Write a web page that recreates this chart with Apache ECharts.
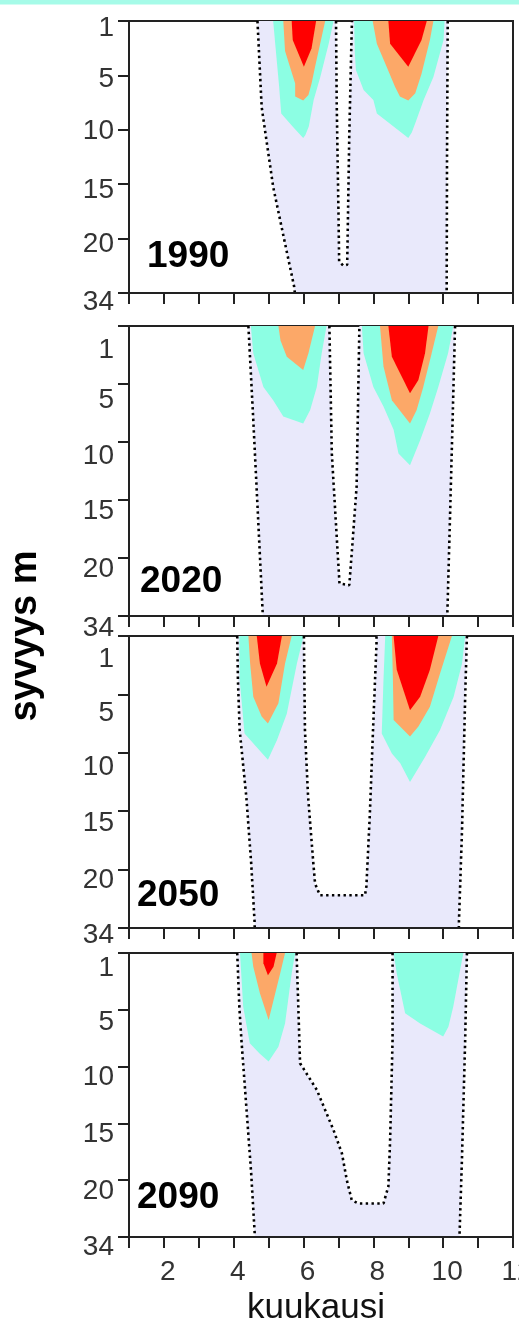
<!DOCTYPE html>
<html><head><meta charset="utf-8">
<script src="https://cdn.jsdelivr.net/npm/echarts@6/dist/echarts.min.js"></script>
<style>html,body{margin:0;padding:0;background:#fff}#c{width:519px;height:1324px}</style>
</head><body><div id="c"></div>
<script>
// ---- data (month, depth-index where 0..5 = depth labels 1,5,10,15,20,34) ----
const depthLabels = ['1','5','10','15','20','34'];
const xTickLabels = [2,4,6,8,10,12];
const years = ['1990','2020','2050','2090'];
const xLabel = 'kuukausi';
const yLabel = 'syvyys m';

// 1990
const p1DotLeft  = [[4.68,0],[4.80,1.58],[5.13,3.05],[5.47,4.09],[5.73,4.88],[5.75,5]];
const p1DotMid   = [[6.93,0],[6.95,1.5],[7.0,3.5],[7.02,4.42],[7.14,4.5],[7.25,4.48],[7.31,2.1],[7.38,0.15],[7.39,0]];
const p1DotRight = [[10.13,0],[10.11,2.5],[10.1,5]];
const p1Cyan1   = [[5.13,0],[5.2,0.5],[5.3,1.2],[5.36,1.7],[5.7,1.95],[5.99,2.15],[6.05,2.1],[6.15,1.94],[6.29,1.45],[6.48,1.03],[6.72,0.42],[6.86,0]];
const p1Orange1 = [[5.42,0],[5.47,0.55],[5.61,0.84],[5.76,1.15],[5.76,1.39],[5.99,1.46],[6.14,1.36],[6.23,1.15],[6.33,0.84],[6.62,0]];
const p1Red1    = [[5.66,0],[5.69,0.35],[6.01,0.84],[6.23,0.5],[6.36,0]];
const p1Cyan2   = [[7.45,0],[7.47,0.6],[7.5,0.9],[7.72,1.27],[8.0,1.45],[8.1,1.7],[8.9,2.1],[9.0,2.15],[9.1,2.05],[9.2,1.88],[9.44,1.45],[9.72,1.03],[10.01,0.35],[10.04,0]];
const p1Orange2 = [[7.98,0],[8.1,0.42],[8.38,0.84],[8.62,1.21],[8.76,1.39],[9.0,1.46],[9.2,1.33],[9.38,0.97],[9.62,0.35],[9.72,0]];
const p1Red2    = [[8.43,0],[8.48,0.42],[9.0,0.84],[9.38,0.35],[9.53,0]];

// 2020
const p2DotLeft  = [[4.42,0],[4.56,1.62],[4.70,3.34],[4.83,4.95],[4.83,5]];
const p2DotMid   = [[6.74,0],[6.81,2.2],[6.95,3.63],[7.03,4.44],[7.31,4.47],[7.38,3.92],[7.52,2.77],[7.6,0]];
const p2DotRight = [[10.34,0],[10.27,1.62],[10.2,3.2],[10.12,4.95],[10.12,5]];
const p2Cyan1   = [[4.49,0],[4.56,0.47],[4.85,1.05],[5.13,1.28],[5.42,1.56],[5.99,1.68],[6.19,1.45],[6.38,1.05],[6.52,0.47],[6.66,0]];
const p2Orange1 = [[5.28,0],[5.34,0.25],[5.52,0.53],[5.99,0.76],[6.14,0.47],[6.33,0]];
const p2Red1    = [];
const p2Cyan2   = [[7.67,0],[7.72,0.47],[8.0,1.05],[8.29,1.39],[8.58,1.79],[8.72,2.2],[9.05,2.4],[9.34,1.97],[9.62,1.51],[9.86,1.05],[10.14,0.47],[10.29,0]];
const p2Orange2 = [[8.19,0],[8.29,0.7],[8.53,1.28],[9.05,1.68],[9.24,1.45],[9.43,1.05],[9.67,0.47],[9.86,0]];
const p2Red2    = [[8.43,0],[8.53,0.53],[9.05,1.16],[9.29,0.93],[9.48,0.47],[9.58,0]];

// 2050
const p3DotLeft  = [[4.10,0],[4.12,0.75],[4.17,1.61],[4.36,2.75],[4.50,3.89],[4.6,4.92],[4.6,5]];
const p3DotMid   = [[6.01,0],[6.04,1.61],[6.13,2.75],[6.28,3.89],[6.33,4.24],[6.47,4.44],[7.76,4.44],[7.8,4.29],[7.9,3.04],[7.99,1.61],[8.09,0.13],[8.09,0]];
const p3DotRight = [[10.68,0],[10.63,1.04],[10.58,2.29],[10.54,3.32],[10.45,4.92],[10.45,5]];
const p3Cyan1   = [[4.16,0],[4.17,0.75],[4.31,1.67],[4.64,1.89],[4.98,2.12],[5.24,1.78],[5.52,1.33],[5.81,0.47],[6.0,0]];
const p3Orange1 = [[4.42,0],[4.47,0.47],[4.56,1.04],[4.8,1.38],[4.98,1.5],[5.28,1.15],[5.47,0.47],[5.66,0]];
const p3Red1    = [[4.66,0],[4.75,0.47],[4.94,0.87],[5.24,0.47],[5.38,0]];
const p3Cyan2   = [[8.34,0],[8.29,0.75],[8.24,1.67],[8.53,2.01],[8.77,2.18],[9.05,2.5],[9.48,2.07],[9.91,1.61],[10.3,1.04],[10.54,0.47],[10.63,0]];
const p3Orange2 = [[8.53,0],[8.56,0.75],[8.58,1.44],[9.05,1.72],[9.29,1.55],[9.62,1.21],[9.91,0.64],[10.25,0]];
const p3Red2    = [[8.58,0],[8.67,0.58],[9.05,1.27],[9.34,1.04],[9.62,0.58],[9.86,0]];

// 2090
const p4DotLeft  = [[4.10,0],[4.16,0.94],[4.22,1.53],[4.36,2.7],[4.5,3.88],[4.6,4.93],[4.6,5]];
const p4DotMid   = [[5.80,0],[5.85,0.94],[5.9,1.94],[6.38,2.41],[6.86,3.12],[7.1,3.53],[7.24,4.0],[7.38,4.35],[7.57,4.41],[8.29,4.41],[8.43,4.11],[8.48,3.29],[8.55,1.53],[8.55,0]];
const p4DotRight = [[10.68,0],[10.63,1.53],[10.54,3.58],[10.47,4.93],[10.47,5]];
const p4Cyan1   = [[4.18,0],[4.27,0.94],[4.46,1.59],[4.74,1.77],[5.0,1.91],[5.28,1.65],[5.47,1.24],[5.66,0.36],[5.76,0]];
const p4Orange1 = [[4.51,0],[4.56,0.24],[4.75,0.71],[5.0,1.18],[5.14,0.83],[5.33,0.36],[5.47,0]];
const p4Red1    = [[4.85,0],[4.85,0.18],[4.98,0.39],[5.14,0.24],[5.23,0]];
const p4Cyan2   = [[8.58,0],[8.67,0.36],[8.91,1.06],[9.34,1.24],[10.0,1.47],[10.15,1.3],[10.29,0.94],[10.54,0.12],[10.58,0]];
const p4Orange2 = [];
const p4Red2    = [];

// ---- layout / styles ----
const gridTops = [21, 326, 636, 953];
const gridHeights = [272, 290, 292, 284];
const yearPos = [[147,257],[140,582],[137,896],[137,1198]];
const yLabelOffsets = [[7,4,1,6,6,9],[24,16,14,11,11,12],[23,19,14,12,11,7],[15,12,11,11,11,10]];
const COL = {lav:'#e9e9fb', cyan:'#8cfee3', orange:'#fca868', red:'#ff0000', ink:'#222'};
const FONT = '"Liberation Sans", Arial, sans-serif';

const panels = [
  {dl:p1DotLeft, dm:p1DotMid, dr:p1DotRight, c1:p1Cyan1, o1:p1Orange1, r1:p1Red1, c2:p1Cyan2, o2:p1Orange2, r2:p1Red2},
  {dl:p2DotLeft, dm:p2DotMid, dr:p2DotRight, c1:p2Cyan1, o1:p2Orange1, r1:p2Red1, c2:p2Cyan2, o2:p2Orange2, r2:p2Red2},
  {dl:p3DotLeft, dm:p3DotMid, dr:p3DotRight, c1:p3Cyan1, o1:p3Orange1, r1:p3Red1, c2:p3Cyan2, o2:p3Orange2, r2:p3Red2},
  {dl:p4DotLeft, dm:p4DotMid, dr:p4DotRight, c1:p4Cyan1, o1:p4Orange1, r1:p4Red1, c2:p4Cyan2, o2:p4Orange2, r2:p4Red2}
];

function polySeries(g, pts, color, z) {
  return {
    type:'custom', xAxisIndex:g, yAxisIndex:g, silent:true, z:z, animation:false,
    data: pts.length ? [pts[0]] : [],
    renderItem: function (params, api) {
      return {type:'polygon', shape:{points: pts.map(function(p){ return api.coord(p); })}, style:{fill:color}};
    }
  };
}
function dotSeries(g, pts) {
  return {type:'line', xAxisIndex:g, yAxisIndex:g, data:pts, symbol:'none', silent:true, z:4, animation:false,
    lineStyle:{color:'#000', width:2.6, type:[2.4,3.4]}};
}

const grids = [], xAxes = [], yAxes = [], series = [];
panels.forEach(function (p, i) {
  grids.push({left:129, right:6, top:gridTops[i], height:gridHeights[i], show:true, borderColor:COL.ink, borderWidth:2,
    backgroundColor:'transparent', containLabel:false, outerBoundsMode:'none'});
  const last = i === panels.length - 1;
  xAxes.push({
    gridIndex:i, type:'value', min:1, max:12, interval:1, z:5,
    axisLine:{show:true, onZero:false, lineStyle:{color:COL.ink, width:2}},
    axisTick:{show:true, length:11, lineStyle:{color:COL.ink, width:2}},
    splitLine:{show:false},
    axisLabel:{show:last, margin:21, fontSize:28, fontFamily:FONT, color:'#333', padding:[0,0,0,8],
      showMinLabel:true, showMaxLabel:true,
      formatter:function(v){ return xTickLabels.indexOf(v) >= 0 ? String(v) : ''; }},
    name: last ? xLabel : '', nameLocation:'middle', nameGap:54,
    nameTextStyle:{fontSize:35, fontFamily:FONT, color:'#111', padding:[0,10,0,0]}
  });
  const rich = {};
  yLabelOffsets[i].forEach(function(o, k){ rich['o'+k] = {padding:[2*o,0,0,0], fontSize:28, fontFamily:FONT, color:'#333'}; });
  yAxes.push({
    gridIndex:i, type:'value', min:0, max:5, interval:1, inverse:true, z:5,
    axisLine:{show:true, onZero:false, lineStyle:{color:COL.ink, width:2}},
    axisTick:{show:true, length:11, lineStyle:{color:COL.ink, width:2}},
    splitLine:{show:false},
    axisLabel:{margin:15, fontSize:28, fontFamily:FONT, color:'#333', showMinLabel:true, showMaxLabel:true, rich:rich,
      formatter:function(v){ const k = Math.round(v); return '{o'+k+'|'+depthLabels[k]+'}'; }}
  });
  const lav = p.dl.concat(p.dr.slice().reverse(), p.dm.slice().reverse());
  series.push(polySeries(i, lav, COL.lav, 1));
  series.push(polySeries(i, p.c1, COL.cyan, 2));
  series.push(polySeries(i, p.o1, COL.orange, 2));
  series.push(polySeries(i, p.r1, COL.red, 2));
  series.push(polySeries(i, p.c2, COL.cyan, 2));
  series.push(polySeries(i, p.o2, COL.orange, 2));
  series.push(polySeries(i, p.r2, COL.red, 2));
  series.push(dotSeries(i, p.dl));
  series.push(dotSeries(i, p.dm));
  series.push(dotSeries(i, p.dr));
});

const graphics = [
  {type:'rect', left:0, top:0, shape:{width:519, height:4.5}, style:{fill:'#a6fbe8'}, silent:true},
  {type:'text', x:26, y:636, rotation:Math.PI/2, silent:true,
    style:{text:yLabel, font:'bold 38px ' + FONT, fill:'#000', textAlign:'center', textVerticalAlign:'middle', verticalAlign:'middle'}}
];
years.forEach(function(y, i){
  graphics.push({type:'text', x:yearPos[i][0], y:yearPos[i][1], silent:true, z:10,
    style:{text:y, font:'bold 37px ' + FONT, fill:'#000', textAlign:'left', textVerticalAlign:'middle', verticalAlign:'middle'}});
});

const chart = echarts.init(document.getElementById('c'), null, {renderer:'canvas'});
chart.setOption({animation:false, grid:grids, xAxis:xAxes, yAxis:yAxes, series:series, graphic:graphics});
</script></body></html>
